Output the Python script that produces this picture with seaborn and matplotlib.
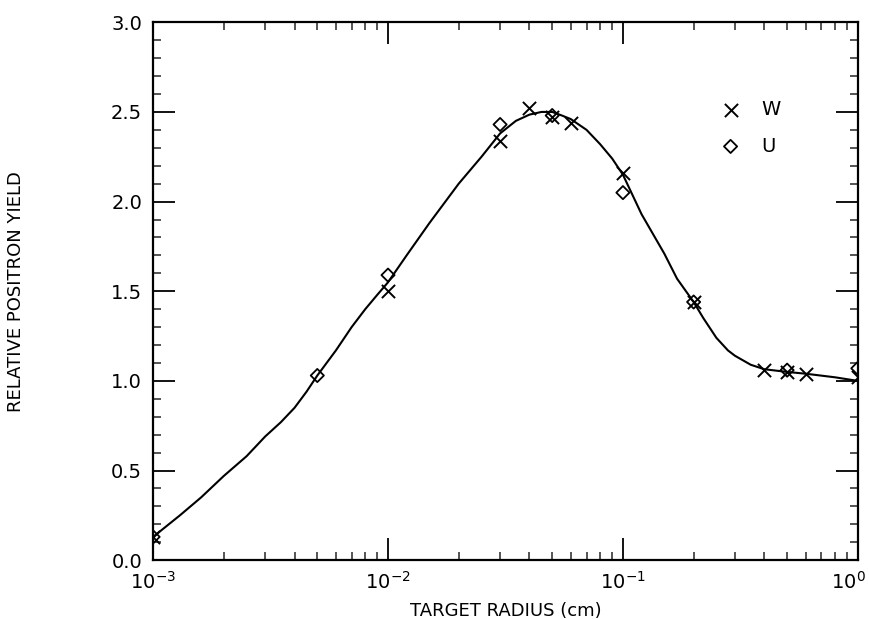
import numpy as np
import pandas as pd
import matplotlib
matplotlib.use("Agg")
import matplotlib.pyplot as plt
import matplotlib.ticker as mticker
import matplotlib.transforms as mtransforms
import seaborn as sns

curve_radius = [0.001, 0.0013, 0.0016, 0.002, 0.0025, 0.003, 0.0035, 0.004,
                0.0045, 0.005, 0.006, 0.007, 0.008, 0.009, 0.01, 0.012, 0.015,
                0.02, 0.025, 0.03, 0.035, 0.04, 0.045, 0.05, 0.055, 0.06,
                0.07, 0.08, 0.09, 0.1, 0.12, 0.15, 0.17, 0.2, 0.22, 0.25,
                0.28, 0.3, 0.35, 0.4, 0.5, 0.6, 0.8, 1.0]
curve_yield = [0.13, 0.25, 0.35, 0.47, 0.58, 0.69, 0.77, 0.85,
               0.94, 1.03, 1.17, 1.30, 1.40, 1.48, 1.55, 1.70, 1.88,
               2.10, 2.25, 2.38, 2.45, 2.485, 2.50, 2.50, 2.48, 2.46,
               2.40, 2.32, 2.24, 2.15, 1.93, 1.71, 1.57, 1.44, 1.35, 1.24,
               1.17, 1.14, 1.09, 1.065, 1.05, 1.04, 1.02, 1.00]

# W (tungsten) points
w_radius = [0.001, 0.01, 0.03, 0.04, 0.05, 0.06, 0.1, 0.2, 0.4, 0.5, 0.6, 1.0]
w_yield = [0.13, 1.50, 2.34, 2.52, 2.47, 2.44, 2.16, 1.44, 1.06, 1.05, 1.04, 1.02]

# U (uranium) points
u_radius = [0.001, 0.005, 0.01, 0.03, 0.05, 0.1, 0.2, 0.5, 1.0]
u_yield = [0.13, 1.03, 1.59, 2.43, 2.48, 2.05, 1.44, 1.06, 1.07]


def main():
    sns.set_theme(style="ticks")
    plt.rcParams.update({
        "font.family": ["DejaVu Sans"],
        "text.color": "black",
        "axes.labelcolor": "black",
        "axes.linewidth": 1.6,
        "xtick.direction": "in",
        "ytick.direction": "in",
        "xtick.top": True,
        "ytick.right": True,
    })

    curve_df = pd.DataFrame({"radius": curve_radius, "yield": curve_yield})
    w_df = pd.DataFrame({"radius": w_radius, "yield": w_yield})
    u_df = pd.DataFrame({"radius": u_radius, "yield": u_yield})

    fig = plt.figure(figsize=(8.7, 6.19), dpi=100)
    ax = fig.add_axes([0.176, 0.095, 0.810, 0.869])

    sns.lineplot(data=curve_df, x="radius", y="yield", color="black",
                 linewidth=1.5, ax=ax)
    sns.scatterplot(data=w_df, x="radius", y="yield", marker="x", s=90,
                    color="black", linewidth=1.4, label="W", ax=ax, zorder=3)
    sns.scatterplot(data=u_df, x="radius", y="yield", marker="D", s=45,
                    facecolor="none", edgecolor="black", linewidth=1.3,
                    label="U", ax=ax, zorder=3)

    ax.set_xscale("log")
    ax.set_xlim(1e-3, 1.0)
    ax.set_ylim(0.0, 3.0)
    ax.xaxis.set_major_locator(mticker.FixedLocator([1e-3, 1e-2, 1e-1, 1.0]))
    ax.yaxis.set_major_locator(mticker.MultipleLocator(0.5))
    ax.yaxis.set_minor_locator(mticker.MultipleLocator(0.1))
    ax.yaxis.set_major_formatter(mticker.FormatStrFormatter("%.1f"))
    ax.xaxis.set_minor_locator(mticker.LogLocator(base=10, subs=np.arange(2, 10)))
    ax.xaxis.set_minor_formatter(mticker.NullFormatter())

    ax.tick_params(axis="both", which="major", length=16, width=1.3,
                   labelsize=14, colors="black", pad=8)
    ax.tick_params(axis="both", which="minor", length=6, width=1.1)
    for spine in ax.spines.values():
        spine.set_color("black")

    ax.set_xlabel("TARGET RADIUS (cm)", fontsize=13, labelpad=6)
    ax.set_ylabel("RELATIVE POSITRON YIELD", fontsize=13, labelpad=62)

    ax.legend(loc="upper left", bbox_to_anchor=(0.767, 0.888), frameon=False,
              fontsize=14, handletextpad=0.6, labelspacing=0.9)

    # keep the 10^0 label inside the canvas
    fig.canvas.draw()
    for lab in ax.get_xticklabels():
        if abs(lab.get_position()[0] - 1.0) < 1e-9:
            lab.set_transform(lab.get_transform() +
                              mtransforms.ScaledTranslation(-0.09, 0, fig.dpi_scale_trans))

    fig.savefig("out.png", dpi=100)
    plt.close(fig)


if __name__ == "__main__":
    main()
